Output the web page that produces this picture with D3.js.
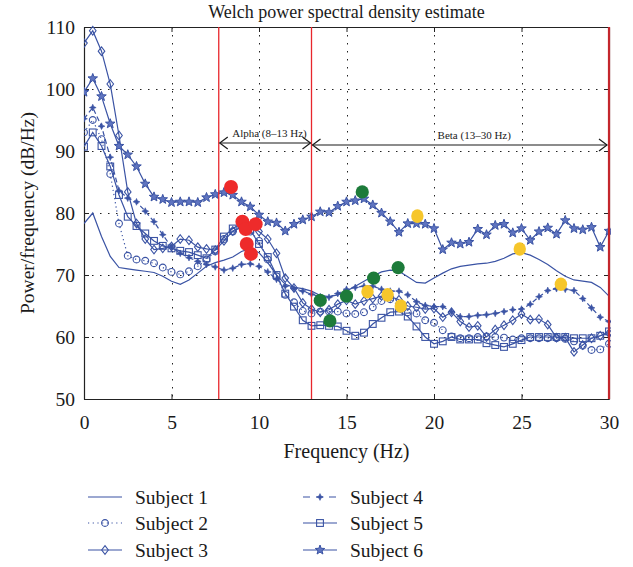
<!DOCTYPE html>
<html>
<head>
<meta charset="utf-8">
<script src="https://cdn.jsdelivr.net/npm/d3@7"></script>
<style>
  html, body { margin: 0; padding: 0; background: #fff; }
  svg { display: block; }
  text { font-family: "Liberation Serif", "DejaVu Serif", serif; fill: #1a1a1a; }
</style>
</head>
<body>
<svg id="chart" width="633" height="567"></svg>
<script>
// ---------------- data ----------------
const freq = [0,0.5,1,1.5,2,2.5,3,3.5,4,4.5,5,5.5,6,6.5,7,7.5,8,8.5,9,9.5,10,10.5,11,11.5,12,12.5,13,13.5,14,14.5,15,15.5,16,16.5,17,17.5,18,18.5,19,19.5,20,20.5,21,21.5,22,22.5,23,23.5,24,24.5,25,25.5,26,26.5,27,27.5,28,28.5,29,29.5,30];

const subject1 = [78.3,80.0,76.2,73.0,71.2,71.0,70.8,70.6,70.4,69.8,69.0,68.5,69.2,70.3,71.4,72.0,72.4,72.9,73.8,74.3,73.6,72.0,70.0,68.5,68.0,67.8,67.4,66.7,66.5,66.8,67.4,68.2,69.0,69.8,70.5,70.8,70.6,69.7,68.8,68.7,69.5,70.3,71.0,71.4,71.6,71.8,71.9,72.2,72.7,73.4,73.6,73.2,72.5,71.7,70.7,69.8,69.2,69.0,68.8,68.0,66.6];
const subject2 = [93.0,95.0,91.9,86.3,78.3,73.1,72.5,72.3,71.9,71.2,70.5,70.1,70.6,71.4,72.5,73.8,75.8,77.0,77.8,77.0,75.5,72.5,69.8,66.8,65.6,64.2,63.8,64.1,64.1,64.1,63.8,63.7,64.0,64.8,65.8,66.1,65.0,64.0,63.8,62.7,62.3,61.1,60.1,59.8,59.8,60.0,60.1,60.0,59.9,59.6,59.8,59.8,59.8,59.8,59.8,59.7,59.3,58.6,57.9,58.0,58.9];
const subject3 = [107.4,109.4,106.1,100.8,92.5,83.4,78.3,75.8,74.1,74.3,74.6,75.8,75.6,74.5,74.2,74.0,75.5,77.1,77.7,77.8,77.0,75.8,73.5,69.5,67.9,65.5,64.5,64.0,64.4,65.3,65.9,65.3,65.8,66.2,66.6,66.5,66.0,65.0,64.8,64.5,64.6,63.2,64.0,62.5,61.6,61.8,60.0,61.2,61.9,62.7,63.7,62.8,62.9,62.0,59.9,59.9,57.6,58.7,59.8,60.2,60.6];
const subject4 = [95.2,97.0,94.0,89.0,83.6,82.4,81.8,80.3,78.6,76.5,74.5,73.5,72.8,72.2,71.7,71.3,70.8,71.1,71.7,71.8,71.4,70.5,69.3,68.2,67.8,67.4,66.9,66.5,66.4,67.0,67.7,68.0,68.2,68.2,67.7,67.4,67.4,66.8,65.7,65.1,64.9,64.9,64.1,63.3,63.3,63.5,63.6,63.8,64.1,64.4,64.5,65.3,66.5,67.5,67.8,67.7,67.5,66.2,64.7,63.2,62.5];
const subject5 = [90.7,93.0,90.8,87.5,82.9,79.4,77.9,76.7,75.5,74.7,74.3,73.9,73.7,73.2,72.7,74.1,76.2,77.5,78.3,77.3,75.0,72.9,70.0,67.0,64.9,62.7,61.8,61.9,61.8,61.7,61.0,60.2,60.7,62.1,63.1,64.0,64.1,63.3,61.7,60.0,58.9,59.3,60.0,59.6,59.6,59.6,59.0,58.7,58.4,58.9,59.5,60.0,60.0,60.0,60.0,60.0,59.8,59.8,59.8,60.2,60.9];
const subject6 = [99.5,101.7,98.8,94.4,90.8,89.4,87.5,84.7,82.6,82.2,81.7,81.8,81.8,81.7,82.5,83.0,83.3,82.9,81.8,81.0,79.7,78.6,78.4,77.1,78.2,78.9,79.4,80.2,80.1,81.1,81.8,82.0,82.3,81.3,80.0,78.6,76.9,78.3,78.3,78.2,77.5,74.1,75.2,75.0,75.3,77.4,76.5,78.0,78.2,76.8,77.5,75.6,77.0,77.6,76.6,78.8,77.5,77.3,77.7,74.5,77.1];

const seriesNames = ["Subject 1","Subject 2","Subject 3","Subject 4","Subject 5","Subject 6"];

// peak markers [frequency, dB/Hz]
const redDots = [[8.4,84.2],[9.05,78.6],[9.24,77.4],[9.81,78.2],[9.3,75.0],[9.54,73.4]];
const greenDots = [[13.5,65.9],[14.05,62.6],[15.0,66.6],[16.55,69.5],[17.95,71.2],[15.9,83.4]];
const yellowDots = [[16.2,67.3],[17.35,66.8],[18.1,65.0],[19.05,79.5],[24.9,74.2],[27.25,68.5]];

const bandEdges = [7.7, 13.0, 30];
const bandLabels = ["Alpha (8–13 Hz)", "Beta (13–30 Hz)"];
const bandLabelFreq = [10.6, 22.3];
const xTicks = [0,5,10,15,20,25,30];
const yTicks = [50,60,70,80,90,100,110];

// ---------------- drawing ----------------
const BLUE = "#3a53a4";
const svg = d3.select("#chart");
const L = 84, R = 609, T = 27, B = 399;
const x = d3.scaleLinear().domain([0,30]).range([L,R]);
const y = d3.scaleLinear().domain([50,110]).range([B,T]);

// grid
const grid = svg.append("g").attr("stroke","#222").attr("stroke-width",1).attr("stroke-dasharray","1.5,6.5");
grid.selectAll("line.v").data(xTicks.slice(1,-1)).join("line")
  .attr("x1",d=>Math.round(x(d))+0.5).attr("x2",d=>Math.round(x(d))+0.5).attr("y1",T).attr("y2",B);
grid.selectAll("line.h").data(yTicks.slice(1,-1)).join("line")
  .attr("y1",d=>Math.round(y(d))+0.5).attr("y2",d=>Math.round(y(d))+0.5).attr("x1",L).attr("x2",R);

// axes
const fmt = d3.format("d");
const axB = svg.append("g").attr("transform",`translate(0,${B})`)
  .call(d3.axisBottom(x).tickValues(xTicks).tickFormat(fmt).tickSizeInner(-5).tickSizeOuter(0).tickPadding(16));
const axT = svg.append("g").attr("transform",`translate(0,${T})`)
  .call(d3.axisTop(x).tickValues(xTicks).tickFormat("").tickSizeInner(-5).tickSizeOuter(0));
const axL = svg.append("g").attr("transform",`translate(${L},0)`)
  .call(d3.axisLeft(y).tickValues(yTicks).tickFormat(fmt).tickSizeInner(-5).tickSizeOuter(0).tickPadding(9));
const axR = svg.append("g").attr("transform",`translate(${R},0)`)
  .call(d3.axisRight(y).tickValues(yTicks).tickFormat("").tickSizeInner(-5).tickSizeOuter(0));
[axB,axT,axL,axR].forEach(a=>{
  a.selectAll("path.domain").attr("stroke","#222").attr("stroke-width",1.2);
  a.selectAll(".tick line").attr("stroke","#222");
  a.selectAll("text").style("font-family","Liberation Serif").style("font-size","19.5px").attr("fill","#1a1a1a");
});

// clip
svg.append("clipPath").attr("id","clip").append("rect").attr("x",L).attr("y",T-8).attr("width",R-L+2).attr("height",B-T+8);
const plot = svg.append("g").attr("clip-path","url(#clip)");

const allSeries = [subject1,subject2,subject3,subject4,subject5,subject6];
const dashes = [null,"1.2,3",null,"5,3",null,null];
const line = d3.line().x((d,i)=>x(freq[i])).y(d=>y(d));

// marker generators
const star5 = (r)=>{ let p=[]; for(let i=0;i<10;i++){const a=-Math.PI/2+i*Math.PI/5; const rr=i%2?r*0.42:r; p.push([rr*Math.cos(a),rr*Math.sin(a)]);} return "M"+p.map(q=>q.join(",")).join("L")+"Z"; };
const star4 = (r)=>`M0,${-r}L${r*0.3},${-r*0.3}L${r},0L${r*0.3},${r*0.3}L0,${r}L${-r*0.3},${r*0.3}L${-r},0L${-r*0.3},${-r*0.3}Z`;
function drawMarker(g, kind){
  if(kind===1) g.append("circle").attr("r",3.4).attr("fill","none").attr("stroke",BLUE).attr("stroke-width",1.1);
  else if(kind===2) g.append("path").attr("d","M0,-4.3L3.3,0L0,4.3L-3.3,0Z").attr("fill","none").attr("stroke",BLUE).attr("stroke-width",1.1);
  else if(kind===3) g.append("path").attr("d",star4(3.4)).attr("fill",BLUE).attr("stroke",BLUE).attr("stroke-width",0.6);
  else if(kind===4) g.append("rect").attr("x",-3.4).attr("y",-3.4).attr("width",6.8).attr("height",6.8).attr("fill","none").attr("stroke",BLUE).attr("stroke-width",1.1);
  else if(kind===5) g.append("path").attr("d",star5(5)).attr("fill","#5f74c0").attr("stroke",BLUE).attr("stroke-width",1);
}

allSeries.forEach((s,si)=>{
  plot.append("path").datum(s).attr("d",line).attr("fill","none").attr("stroke",BLUE)
    .attr("stroke-width",1.2).attr("stroke-dasharray",dashes[si]);
  if(si>0){
    plot.append("g").selectAll("g").data(s).join("g")
      .attr("transform",(d,i)=>`translate(${x(freq[i])},${y(d)})`)
      .each(function(){ drawMarker(d3.select(this), si); });
  }
});

// band edges
svg.selectAll("line.band").data(bandEdges).join("line")
  .attr("x1",d=>x(d)).attr("x2",d=>x(d)).attr("y1",T).attr("y2",B)
  .attr("stroke",(d,i)=>i===2?"#c4262c":"#e8262c").attr("stroke-width",(d,i)=>i===2?2.2:1.3);

// peak dots
svg.append("g").selectAll("circle").data(redDots).join("circle")
  .attr("cx",d=>x(d[0])).attr("cy",d=>y(d[1])).attr("r",7).attr("fill","#ee2b2b");
svg.append("g").selectAll("circle").data(greenDots).join("circle")
  .attr("cx",d=>x(d[0])).attr("cy",d=>y(d[1])).attr("r",6.6).attr("fill","#1d7b3a");
svg.append("g").selectAll("ellipse").data(yellowDots).join("ellipse")
  .attr("cx",d=>x(d[0])).attr("cy",d=>y(d[1])).attr("rx",6.2).attr("ry",6.8).attr("fill","#f6c62b");

// band annotations
function bandArrow(x1,x2,yy,label,tx,ty){
  const g = svg.append("g").attr("stroke","#1a1a1a").attr("fill","none").attr("stroke-width",1.2);
  g.append("line").attr("x1",x1).attr("x2",x2).attr("y1",yy).attr("y2",yy);
  g.append("path").attr("d",`M${x1+8},${yy-6}L${x1},${yy}L${x1+8},${yy+6}`);
  g.append("path").attr("d",`M${x2-8},${yy-6}L${x2},${yy}L${x2-8},${yy+6}`);
  svg.append("text").attr("x",tx).attr("y",ty).attr("text-anchor","middle")
    .style("font-size","11px").text(label);
}
bandArrow(x(bandEdges[0])+1, x(bandEdges[1])-1, 143, bandLabels[0], x(bandLabelFreq[0]), 137);
bandArrow(x(bandEdges[1])+1, x(bandEdges[2])-2, 145, bandLabels[1], x(bandLabelFreq[1]), 139);

// title & labels
svg.append("text").attr("x",(L+R)/2).attr("y",18).attr("text-anchor","middle")
  .style("font-size","18px").text("Welch power spectral density estimate");
svg.append("text").attr("x",(L+R)/2).attr("y",458).attr("text-anchor","middle")
  .style("font-size","20px").text("Frequency (Hz)");
svg.append("text").attr("transform",`translate(27,${(T+B)/2}) rotate(-90)`).attr("text-anchor","middle")
  .attr("dy","0.35em").style("font-size","19.5px").text("Power/frequency (dB/Hz)");

// legend
const legendPos = [[88,497],[88,523],[88,550],[303,497],[303,523],[303,550]];
seriesNames.forEach((name,i)=>{
  const [lx,ly] = legendPos[i];
  const g = svg.append("g");
  g.append("line").attr("x1",lx).attr("x2",lx+34).attr("y1",ly).attr("y2",ly)
    .attr("stroke",BLUE).attr("stroke-width",1.2).attr("stroke-dasharray",i===1?"1.2,3.5":(i===3?"7,6":null));
  if(i>0){ const m = g.append("g").attr("transform",`translate(${lx+17},${ly})`); drawMarker(m,i); }
  g.append("text").attr("x",lx+47).attr("y",ly).attr("dy","0.35em").style("font-size","19.5px").text(name);
});
</script>
</body>
</html>
